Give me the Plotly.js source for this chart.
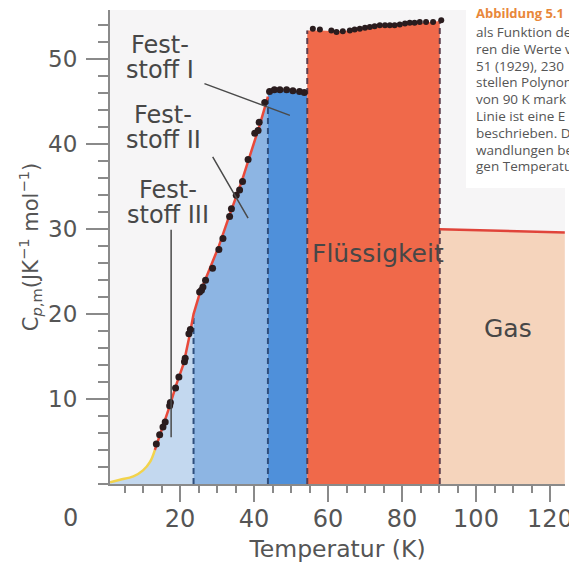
<!DOCTYPE html>
<html>
<head>
<meta charset="utf-8">
<script src="https://cdn.plot.ly/plotly-3.0.1.min.js"></script>
<style>html,body{margin:0;padding:0;background:#fff;}#chart{width:569px;height:563px;}</style>
</head>
<body>
<div id="chart"></div>
<script>
// ---- data ----
const transitionT = [23.66, 43.76, 54.39, 90.2];

const curveIIIT  = [1.1, 3.8, 7.4, 10.0, 11.9, 13.2, 15.0, 17.0, 19.0, 21.0, 22.5, 23.66];
const curveIIICp = [0.2, 0.5, 0.9, 1.6, 2.6, 4.0, 6.2, 8.9, 11.7, 14.2, 17.3, 20.0];

const curveIIT  = [23.66, 25.3, 27.0, 30.5, 33.5, 36.5, 39.0, 41.5, 43.76];
const curveIICp = [20.0, 22.4, 24.3, 28.0, 31.8, 35.4, 38.8, 42.2, 45.6];

const curveIT  = [43.76, 45.0, 47.0, 49.0, 51.0, 53.0, 54.39];
const curveICp = [46.0, 46.2, 46.3, 46.4, 46.3, 46.2, 46.1];

const liquidT  = [54.39, 58, 62, 66, 70, 74, 78, 82, 86, 90.2];
const liquidCp = [53.4, 53.4, 53.3, 53.4, 53.7, 53.9, 54.0, 54.2, 54.3, 54.5];

const gasT  = [90.2, 124];
const gasCp = [30.0, 29.6];

const solidDotsT  = [13.6, 14.5, 15.4, 16.0, 17.2, 17.4, 18.8, 19.7, 21.2, 21.4, 22.4, 22.8,
                     25.3, 25.8, 26.2, 26.9, 28.8, 30.5, 31.6, 33.4, 33.9, 35.2, 36.1, 36.9,
                     38.4, 40.2, 41.1, 41.4, 42.9, 44.2, 45.5, 47.0, 48.8, 50.5, 52.3, 53.6];
const solidDotsCp = [4.7, 5.8, 6.7, 7.3, 9.2, 9.6, 11.3, 12.6, 14.4, 14.8, 17.7, 18.2,
                     22.6, 22.8, 23.2, 24.0, 25.4, 27.6, 28.9, 31.5, 32.4, 34.0, 34.6, 35.6,
                     38.2, 41.3, 41.6, 42.6, 44.9, 46.2, 46.4, 46.4, 46.4, 46.3, 46.2, 46.1];

const liquidDotsT  = [55.9, 57.8, 60.9, 62.3, 64.0, 65.9, 67.2, 68.6, 70.0, 71.3, 72.6, 74.0,
                      75.4, 76.7, 78.0, 79.4, 80.8, 82.1, 83.4, 84.8, 86.5, 88.4, 90.6];
const liquidDotsCp = [53.6, 53.5, 53.4, 53.2, 53.3, 53.4, 53.5, 53.6, 53.7, 53.8, 53.9, 54.0,
                      54.0, 54.0, 54.0, 54.1, 54.2, 54.3, 54.3, 54.4, 54.4, 54.4, 54.6];

const xTicks = [20, 40, 60, 80, 100, 120];
const yTicks = [10, 20, 30, 40, 50];

const solidLabels = [['Fest-', 'stoff I'], ['Fest-', 'stoff II'], ['Fest-', 'stoff III']];
const liquidLabel = 'Flüssigkeit';
const gasLabel = 'Gas';
const captionTitle = 'Abbildung 5.1';
const captionLines = ['als Funktion de', 'ren die Werte v', '51 (1929), 230', 'stellen Polynom',
                      'von 90 K mark', 'Linie ist eine E', 'beschrieben. D', 'wandlungen be', 'gen Temperatu'];

// ---- traces ----
function fillTrace(x, y, color) {
  return {x: x, y: y, type: 'scatter', mode: 'lines', fill: 'tozeroy', fillcolor: color,
          line: {width: 0, color: color}, hoverinfo: 'skip', showlegend: false};
}
function dashTrace(t, top, color) {
  return {x: [t, t], y: [0, top], type: 'scatter', mode: 'lines',
          line: {color: color, width: 2, dash: '6px,4px'}, hoverinfo: 'skip', showlegend: false};
}
const last = a => a[a.length - 1];

const traces = [
  fillTrace(curveIIIT, curveIIICp, '#c3d8ef'),
  fillTrace(curveIIT, curveIICp, '#8db5e3'),
  fillTrace(curveIT, curveICp, '#4f90da'),
  fillTrace(liquidT, liquidCp, '#f0694a'),
  fillTrace(gasT, gasCp, '#f5d4bc'),
  dashTrace(transitionT[0], last(curveIIICp), '#2f4e7c'),
  dashTrace(transitionT[1], last(curveIICp), '#2f4e7c'),
  dashTrace(transitionT[2], liquidCp[0], '#5c3c4c'),
  dashTrace(transitionT[3], last(liquidCp), '#5c3c4c'),
  {x: curveIIIT.slice(0, 6), y: curveIIICp.slice(0, 6), type: 'scatter', mode: 'lines',
   line: {color: '#f2d34c', width: 2.5, shape: 'spline'}, hoverinfo: 'skip', showlegend: false},
  {x: curveIIIT.slice(5).concat(curveIIT.slice(1)), y: curveIIICp.slice(5).concat(curveIICp.slice(1)),
   type: 'scatter', mode: 'lines', line: {color: '#e8493a', width: 2.5}, hoverinfo: 'skip', showlegend: false},
  {x: gasT, y: gasCp, type: 'scatter', mode: 'lines', line: {color: '#e0443a', width: 2.5},
   hoverinfo: 'skip', showlegend: false},
  {x: solidDotsT, y: solidDotsCp, type: 'scatter', mode: 'markers',
   marker: {color: '#2a1c1e', size: 7}, hoverinfo: 'skip', showlegend: false},
  {x: liquidDotsT, y: liquidDotsCp, type: 'scatter', mode: 'markers',
   marker: {color: '#2a1c1e', size: 6}, hoverinfo: 'skip', showlegend: false}
];

// ---- annotations ----
const labelFont = {family: 'DejaVu Sans', size: 24, color: '#474747'};
const P = (px) => (px - 110) / 455;      // pixel -> paper x
const Q = (py) => (484 - py) / 474;      // pixel -> paper y
function txt(text, px, py, font, xanchor) {
  return {text: text, xref: 'paper', yref: 'paper', x: P(px), y: Q(py), showarrow: false,
          xanchor: xanchor || 'center', yanchor: 'middle', font: font};
}
const annotations = [
  txt(solidLabels[0][0], 160, 45, labelFont), txt(solidLabels[0][1], 160, 70, labelFont),
  txt(solidLabels[1][0], 163, 115, labelFont), txt(solidLabels[1][1], 163, 140, labelFont),
  txt(solidLabels[2][0], 168, 190, labelFont), txt(solidLabels[2][1], 168, 215, labelFont),
  txt(liquidLabel, 378, 253, {family: 'DejaVu Sans', size: 25, color: '#474747'}),
  txt(gasLabel, 508, 328, {family: 'DejaVu Sans', size: 25, color: '#474747'}),
  // pointer lines
  {text: '', xref: 'x', yref: 'y', axref: 'x', ayref: 'y', x: 49.7, y: 43.4, ax: 26.2, ay: 47.2,
   showarrow: true, arrowhead: 0, arrowwidth: 1.5, arrowcolor: '#4a4a4a'},
  {text: '', xref: 'x', yref: 'y', axref: 'x', ayref: 'y', x: 38.4, y: 31.3, ax: 28.6, ay: 38.7,
   showarrow: true, arrowhead: 0, arrowwidth: 1.5, arrowcolor: '#4a4a4a'},
  {text: '', xref: 'x', yref: 'y', axref: 'x', ayref: 'y', x: 17.6, y: 5.5, ax: 17.6, ay: 30.1,
   showarrow: true, arrowhead: 0, arrowwidth: 1.5, arrowcolor: '#4a4a4a'},
  // origin label
  txt('0', 70, 518, {family: 'DejaVu Sans', size: 24, color: '#555'}),
  // caption fragment
  txt('<b>' + captionTitle + '</b>', 474, 13, {family: 'Open Sans', size: 13, color: '#e8873a'}, 'left')
];
captionLines.forEach((t, i) => {
  annotations.push(txt(t, 474, 32 + i * 16.8, {family: 'Open Sans', size: 13.5, color: '#555'}, 'left'));
});

const layout = {
  width: 569, height: 563,
  margin: {l: 110, r: 4, t: 10, b: 79},
  paper_bgcolor: '#ffffff',
  plot_bgcolor: '#f6f5f6',
  showlegend: false,
  hovermode: false,
  font: {family: 'DejaVu Sans', color: '#555'},
  xaxis: {
    range: [1.08, 124.05], tickmode: 'array', tickvals: xTicks,
    showgrid: false, zeroline: false, showline: true, linecolor: '#8a8a8a', linewidth: 2,
    ticks: 'outside', ticklen: 16, tickwidth: 2, tickcolor: '#8a8a8a', ticklabelstandoff: -4,
    ticklabeloverflow: 'allow',
    tickfont: {family: 'DejaVu Sans', size: 24, color: '#555'},
    minor: {tickmode: 'linear', tick0: 0, dtick: 5, ticks: 'outside', ticklen: 7, tickwidth: 2, tickcolor: '#8a8a8a'},
    title: {text: 'Temperatur (K)', font: {family: 'DejaVu Sans', size: 23.5, color: '#555'}, standoff: 13},
    automargin: false
  },
  yaxis: {
    range: [0, 55.8], tickmode: 'array', tickvals: yTicks,
    showgrid: false, zeroline: false, showline: true, linecolor: '#8a8a8a', linewidth: 2,
    ticks: 'outside', ticklen: 22, tickwidth: 2, tickcolor: '#8a8a8a', ticklabelstandoff: 4,
    tickfont: {family: 'DejaVu Sans', size: 23, color: '#555'},
    minor: {tickmode: 'linear', tick0: 0, dtick: 2, ticks: 'outside', ticklen: 10, tickwidth: 2, tickcolor: '#8a8a8a'},
    title: {text: 'C<sub><i>p</i>,m</sub>(JK<sup>−1</sup> mol<sup>−1</sup>)',
            font: {family: 'DejaVu Sans', size: 21, color: '#555'}, standoff: 4},
    automargin: false
  },
  shapes: [
    {type: 'rect', xref: 'paper', yref: 'paper', x0: P(466), x1: 1.05, y0: Q(188), y1: 1.05,
     fillcolor: '#ffffff', line: {width: 0}, layer: 'below'}
  ],
  annotations: annotations
};

Plotly.newPlot('chart', traces, layout, {displayModeBar: false, staticPlot: true});
</script>
</body>
</html>
